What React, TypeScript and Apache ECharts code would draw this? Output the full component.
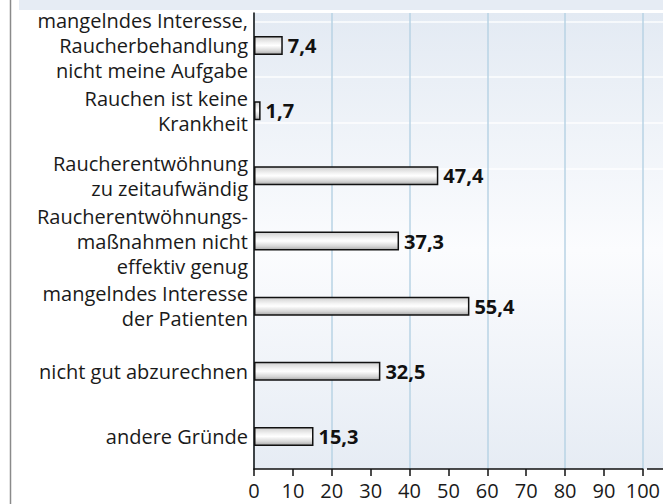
import React, { useEffect, useRef } from "react";
import * as echarts from "echarts";

const categories: string[] = [
  "mangelndes Interesse,\nRaucherbehandlung\nnicht meine Aufgabe",
  "Rauchen ist keine\nKrankheit",
  "Raucherentwöhnung\nzu zeitaufwändig",
  "Raucherentwöhnungs-\nmaßnahmen nicht\neffektiv genug",
  "mangelndes Interesse\nder Patienten",
  "nicht gut abzurechnen",
  "andere Gründe",
];
const values: number[] = [7.4, 1.7, 47.4, 37.3, 55.4, 32.5, 15.3];
const axisMin = 0;
const axisMax = 100;
const tickStep = 10;
const gridStep = 20;

const FONT = "'Open Sans', 'Noto Sans', sans-serif";

export default function App() {
  const ref = useRef<HTMLDivElement>(null);
  useEffect(() => {
    document.body.style.margin = "0";
    const chart = echarts.init(ref.current!, null, { renderer: "svg" });
    const W = 663;
    const H = 504;
    const gl = 254, gt = 13, gr = 16, gb = 35;
    const axisY = H - gb;
    chart.setOption({
      animation: false,
      backgroundColor: "#ffffff",
      textStyle: { fontFamily: FONT },
      grid: { left: gl, top: gt, right: gr, bottom: gb, containLabel: false },
      graphic: [
        {
          type: "rect",
          z: -10,
          shape: { x: 19, y: 0, width: W - 19, height: 10 },
          style: { fill: "#e6ecf4" },
        },
        {
          type: "rect",
          z: -10,
          shape: { x: gl, y: gt, width: W - gl, height: axisY - gt },
          style: {
            fill: new echarts.graphic.LinearGradient(0, 0, 0, 1, [
              { offset: 0, color: "#e3eaf3" },
              { offset: 0.52, color: "#fbfcfe" },
              { offset: 1, color: "#e6ecf4" },
            ]),
          },
        },
        ...[22, 77, 123, 169].map((y) => ({
          type: "line",
          z: -9,
          shape: { x1: gl, y1: y, x2: W, y2: y },
          style: { stroke: "rgba(255,255,255,0.9)", lineWidth: 1.5 },
        })),
        {
          type: "line",
          z: 5,
          shape: { x1: W - gr, y1: axisY, x2: W, y2: axisY },
          style: { stroke: "#111", lineWidth: 1.5 },
        },
        {
          type: "line",
          z: 5,
          shape: { x1: 10.5, y1: 0, x2: 10.5, y2: H },
          style: { stroke: "#8a8a8a", lineWidth: 1.5 },
        },
      ],
      xAxis: [
        {
          type: "value",
          min: axisMin,
          max: axisMax,
          interval: tickStep,
          axisLine: { show: true, lineStyle: { color: "#111", width: 1.5 } },
          axisTick: { show: true, length: 7, lineStyle: { color: "#111", width: 1.5 } },
          axisLabel: {
            color: "#1a1a1a",
            fontSize: 20,
            fontFamily: FONT,
            margin: 11,
          },
          splitLine: { show: false },
        },
        {
          type: "value",
          min: axisMin,
          max: axisMax,
          interval: gridStep,
          axisLine: { show: false },
          axisTick: { show: false },
          axisLabel: { show: false },
          splitLine: { show: true, lineStyle: { color: "#b9d3e5", width: 1.5 } },
        },
      ],
      yAxis: {
        type: "category",
        inverse: true,
        data: categories,
        axisLine: { show: true, lineStyle: { color: "#111", width: 1.5 } },
        axisTick: { show: false },
        axisLabel: {
          color: "#1a1a1a",
          fontSize: 20,
          lineHeight: 25,
          fontFamily: FONT,
          align: "right",
          margin: 6,
        },
        splitLine: { show: false },
      },
      series: [
        {
          type: "bar",
          xAxisIndex: 0,
          data: values,
          barWidth: 19,
          z: 3,
          itemStyle: {
            color: new echarts.graphic.LinearGradient(0, 0, 0, 1, [
              { offset: 0, color: "#cfcfcf" },
              { offset: 0.35, color: "#f4f4f4" },
              { offset: 0.5, color: "#ffffff" },
              { offset: 0.8, color: "#d6d6d6" },
              { offset: 1, color: "#a9a9a9" },
            ]),
            borderColor: "#111",
            borderWidth: 1.5,
          },
          label: {
            show: true,
            position: "right",
            distance: 5,
            color: "#111",
            fontSize: 20,
            fontWeight: "bold",
            fontFamily: FONT,
            formatter: (p: any) => String(p.value).replace(".", ","),
          },
        },
      ],
    });
    return () => chart.dispose();
  }, []);
  return (
    <div
      ref={ref}
      style={{ position: "absolute", left: 0, top: 0, width: 663, height: 504 }}
    />
  );
}
